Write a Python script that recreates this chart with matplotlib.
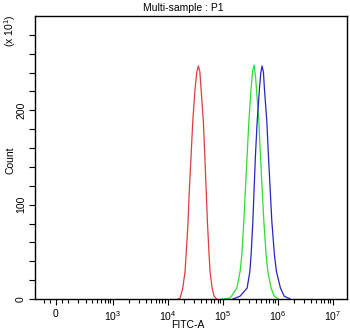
import numpy as np
import matplotlib
matplotlib.use("Agg")
import matplotlib.pyplot as plt

plt.rcParams['font.family'] = ['Liberation Sans', 'DejaVu Sans']
plt.rcParams['mathtext.default'] = 'regular'

# ---- data (log10 of FITC-A, counts in units of 10^1) ----
red_log = [4.186, 4.223, 4.272, 4.313, 4.332, 4.368, 4.392, 4.423, 4.453, 4.495, 4.528,
           4.555, 4.582, 4.604, 4.646, 4.672, 4.696, 4.719, 4.750, 4.768, 4.805, 4.841, 4.890]
red_cnt = [0, 1, 11.6, 29, 46.6, 82, 117, 152, 188, 223, 241,
           247, 241, 223, 188, 152, 117, 82, 46.6, 29, 11.6, 3, 0]

green_log = [4.986, 5.132, 5.254, 5.313, 5.344, 5.381, 5.410, 5.441, 5.472, 5.513, 5.541,
             5.568, 5.595, 5.610, 5.654, 5.683, 5.713, 5.745, 5.786, 5.817, 5.877, 5.932, 6.010]
green_cnt = [0, 1, 11.6, 29, 46.6, 82, 117, 152, 188, 223, 242,
             248, 235, 223, 188, 152, 117, 82, 46.6, 29, 11.6, 3, 0]

blue_log = [5.186, 5.313, 5.441, 5.490, 5.513, 5.545, 5.568, 5.592, 5.623, 5.665, 5.690,
            5.713, 5.738, 5.755, 5.799, 5.828, 5.859, 5.890, 5.937, 5.974, 6.046, 6.114, 6.223]
blue_cnt = [0, 3, 11.6, 29, 46.6, 82, 117, 152, 188, 223, 240,
            247, 240, 223, 188, 152, 117, 82, 46.6, 29, 11.6, 3, 0]

x_major = [0, 1e3, 1e4, 1e5, 1e6, 1e7]
x_major_labels = ['0', '$10^{3}$', '$10^{4}$', '$10^{5}$', '$10^{6}$', '$10^{7}$']
y_major = [0, 100, 200]
y_major_labels = ['0', '100', '200']

# ---- biexponential-like display scale ----
C = 93.0
def fwd(x):
    return np.arcsinh(np.asarray(x, dtype=float) / (2 * C)) / np.log(10)
def inv(y):
    return 2 * C * np.sinh(np.asarray(y, dtype=float) * np.log(10))

W, H = 350, 332
fig = plt.figure(figsize=(W / 100, H / 100), dpi=100)
ax = fig.add_axes([35 / W, 33 / H, 312 / W, 283 / H])
ax.set_xscale('function', functions=(fwd, inv))

ax.plot(10 ** np.array(red_log), red_cnt, color='#e23c3c', lw=0.9)
ax.plot(10 ** np.array(green_log), green_cnt, color='#30dd30', lw=0.9)
ax.plot(10 ** np.array(blue_log), blue_cnt, color='#2525c8', lw=0.9)

ax.set_xlim(-185, 1.8e7)
ax.set_ylim(0, 300)

minors = [-100, -50, 50] + [m * 10 ** e for e in range(2, 7) for m in range(1, 10) if m * 10 ** e not in x_major]
minors = [v for v in minors if v < 1.8e7]
ax.set_xticks(x_major)
ax.set_xticklabels(x_major_labels)
ax.set_xticks(minors, minor=True)
ax.set_yticks(y_major)
ax.set_yticklabels(y_major_labels, rotation=90, va='center')
ax.set_yticks(np.arange(0, 300, 20), minor=True)

ax.tick_params(axis='both', which='major', direction='out', length=4.5, width=0.8,
               labelsize=7.5, pad=2.5, color='black')
ax.tick_params(axis='both', which='minor', direction='out', length=3, width=0.8, color='black')
ax.tick_params(axis='y', which='major', length=4, pad=2.5)
ax.tick_params(axis='y', which='minor', length=4)

for s in ax.spines.values():
    s.set_linewidth(1.0)
    s.set_color('black')

fig.text(183 / W, 1 - 8 / H, 'Multi-sample : P1', ha='center', va='center', fontsize=7.5)
fig.text(188 / W, 1 - 325 / H, 'FITC-A', ha='center', va='center', fontsize=7.5)
fig.text(10 / W, 1 - 160 / H, 'Count', ha='center', va='center', fontsize=7.5, rotation=90)
fig.text(10 / W, 1 - 31 / H, '(x $10^{1}$)', ha='center', va='center', fontsize=7.5, rotation=90)

fig.savefig('out.png', dpi=100)
